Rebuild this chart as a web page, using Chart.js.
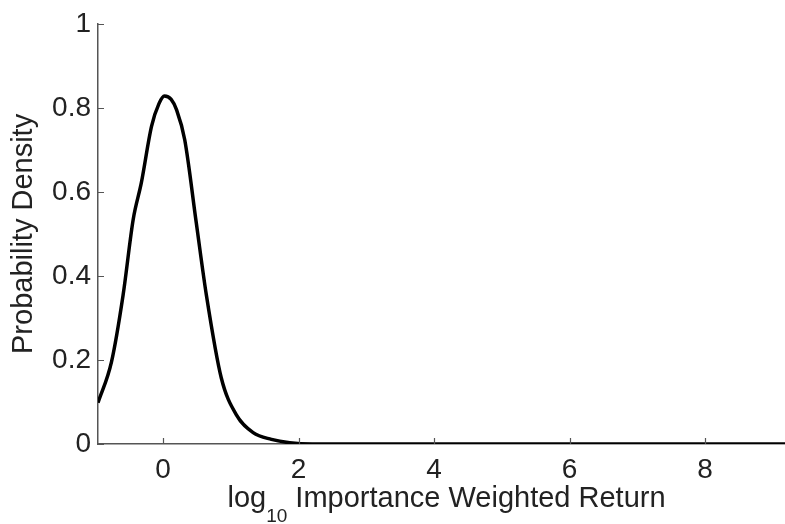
<!DOCTYPE html>
<html>
<head>
<meta charset="utf-8">
<script src="https://cdn.jsdelivr.net/npm/chart.js@4"></script>
<style>
  html, body { margin: 0; padding: 0; background: #fff; }
  #wrap { width: 785px; height: 524px; }
</style>
</head>
<body>
<div id="wrap"><canvas id="chart"></canvas></div>
<script>
// values
const xValues = [-0.96, -0.76, -0.59, -0.44, -0.32, -0.17, -0.06, 0.02, 0.12, 0.2, 0.32, 0.49, 0.64, 0.86, 1.08, 1.33, 1.6, 1.87, 2.2, 4, 6, 8, 9.2];
const densityValues = [0.098, 0.196, 0.354, 0.535, 0.622, 0.756, 0.81, 0.828, 0.82, 0.795, 0.724, 0.527, 0.354, 0.157, 0.07, 0.027, 0.011, 0.003, 0, 0, 0, 0, 0];
const xTicks = [0, 2, 4, 6, 8];
const yTicks = [0, 0.2, 0.4, 0.6, 0.8, 1];
const xRange = [-0.96, 9.18];
const yRange = [0, 1];
const xTitle = ['log', '10', ' Importance Weighted Return'];
const yTitle = 'Probability Density';

const FONT = '"Liberation Sans", Arial, sans-serif';
const AXIS_COLOR = '#555';
const TEXT_COLOR = '#222';

const points = xValues.map((x, i) => ({ x: x, y: densityValues[i] }));

// inward tick marks and the two axis titles
const axisExtras = {
  id: 'axisExtras',
  afterDraw(chart) {
    const ctx = chart.ctx;
    const area = chart.chartArea;
    const xs = chart.scales.x;
    const ys = chart.scales.y;
    ctx.save();
    ctx.strokeStyle = AXIS_COLOR;
    ctx.lineWidth = 1.2;
    ctx.beginPath();
    xTicks.forEach(v => {
      const px = Math.round(xs.getPixelForValue(v)) + 0.5;
      ctx.moveTo(px, area.bottom);
      ctx.lineTo(px, area.bottom - 6);
    });
    yTicks.forEach(v => {
      const py = Math.round(ys.getPixelForValue(v)) + 0.5;
      ctx.moveTo(area.left, py);
      ctx.lineTo(area.left + 6, py);
    });
    ctx.stroke();

    ctx.fillStyle = TEXT_COLOR;
    // x title with subscript
    const big = '29px ' + FONT;
    const small = '19px ' + FONT;
    ctx.font = big;
    const w0 = ctx.measureText(xTitle[0]).width;
    const w2 = ctx.measureText(xTitle[2]).width;
    ctx.font = small;
    const w1 = ctx.measureText(xTitle[1]).width;
    const total = w0 + w1 + w2;
    let x = (area.left + area.right) / 2 - total / 2 + 5;
    const base = 507;
    ctx.textAlign = 'left';
    ctx.textBaseline = 'alphabetic';
    ctx.font = big;
    ctx.fillText(xTitle[0], x, base);
    x += w0;
    ctx.font = small;
    ctx.fillText(xTitle[1], x, base + 15);
    x += w1;
    ctx.font = big;
    ctx.fillText(xTitle[2], x, base);

    // y title, rotated
    ctx.translate(32, (area.top + area.bottom) / 2);
    ctx.rotate(-Math.PI / 2);
    ctx.textAlign = 'center';
    ctx.textBaseline = 'alphabetic';
    ctx.font = big;
    ctx.fillText(yTitle, 0, 0);
    ctx.restore();
  }
};

new Chart(document.getElementById('chart'), {
  type: 'line',
  data: {
    datasets: [{
      data: points,
      borderColor: '#000',
      borderWidth: 3.5,
      pointRadius: 0,
      fill: false,
      cubicInterpolationMode: 'monotone'
    }]
  },
  options: {
    responsive: true,
    maintainAspectRatio: false,
    animation: false,
    events: [],
    layout: { padding: { top: 20, right: 0, left: 0, bottom: 0 } },
    plugins: {
      legend: { display: false },
      tooltip: { enabled: false }
    },
    scales: {
      x: {
        type: 'linear',
        min: xRange[0],
        max: xRange[1],
        afterBuildTicks: (scale) => { scale.ticks = xTicks.map(v => ({ value: v })); },
        afterFit: (scale) => { scale.height = 80; },
        grid: { display: true, drawOnChartArea: false, drawTicks: false },
        border: { display: true, color: AXIS_COLOR, width: 1.5 },
        ticks: {
          padding: 9,
          color: TEXT_COLOR,
          font: { family: FONT, size: 28 },
          maxRotation: 0,
          callback: (v) => String(v)
        }
      },
      y: {
        min: yRange[0],
        max: yRange[1],
        afterBuildTicks: (scale) => { scale.ticks = yTicks.map(v => ({ value: v })); },
        afterFit: (scale) => { scale.width = 98; },
        grid: { display: true, drawOnChartArea: false, drawTicks: false },
        border: { display: true, color: AXIS_COLOR, width: 1.5 },
        ticks: {
          padding: 7,
          color: TEXT_COLOR,
          font: { family: FONT, size: 28 },
          callback: (v) => String(Math.round(v * 10) / 10)
        }
      }
    }
  },
  plugins: [axisExtras]
});
</script>
</body>
</html>
